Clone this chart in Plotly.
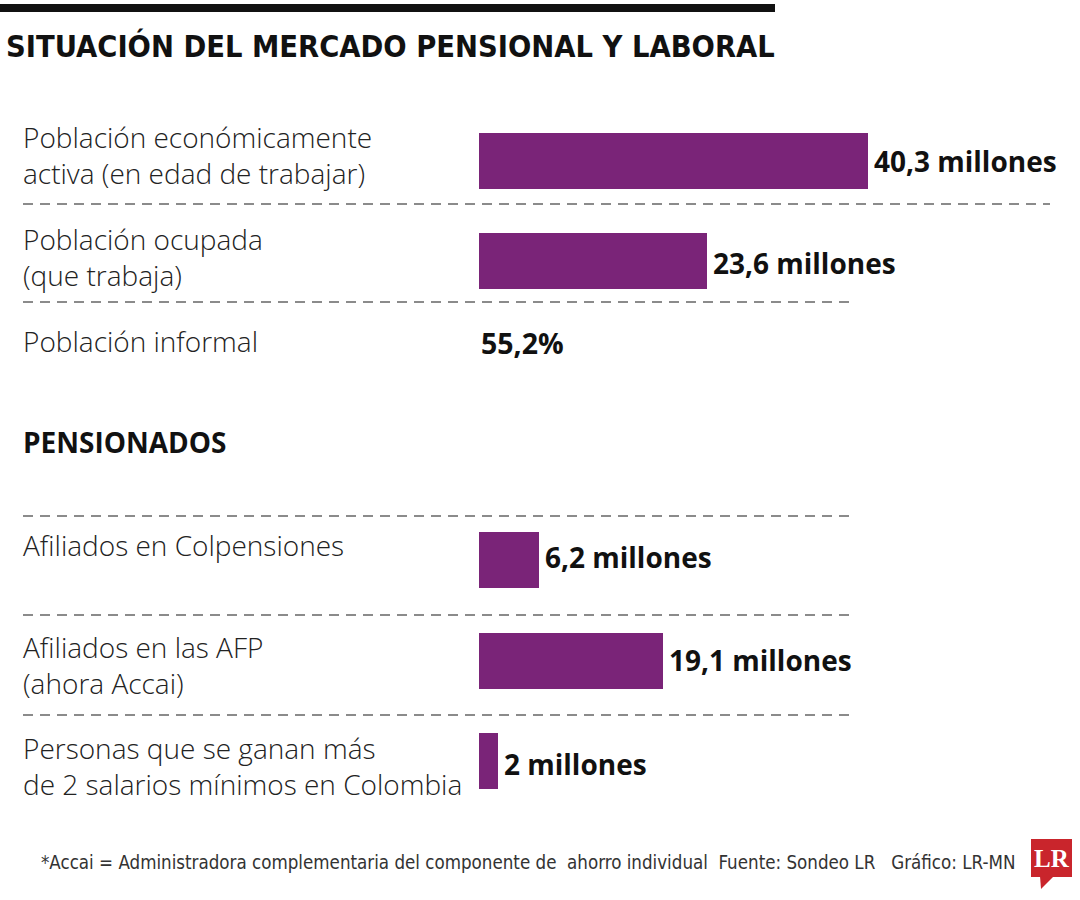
import plotly.graph_objects as go

# ---------------- data ----------------
title = "SITUACIÓN DEL MERCADO PENSIONAL Y LABORAL"
categories = [
    "Población económicamente<br>activa (en edad de trabajar)",
    "Población ocupada<br>(que trabaja)",
    "Afiliados en Colpensiones",
    "Afiliados en las AFP<br>(ahora Accai)",
    "Personas que se ganan más<br>de 2 salarios mínimos en Colombia",
]
values = [40.3, 23.6, 6.2, 19.1, 2]
value_labels = ["40,3 millones", "23,6 millones", "6,2 millones", "19,1 millones", "2 millones"]
informal_label = "Población informal"
informal_value = "55,2%"
section_title = "PENSIONADOS"
footnote = ("*Accai = Administradora complementaria del componente de  ahorro individual  "
            "Fuente: Sondeo LR   Gráfico: LR-MN")

# ---------------- layout constants (pixels) ----------------
W, H = 1080, 900
X0_PX = 479          # pixel where value 0 sits
PX_PER_UNIT = 9.65
bar_y = [160.5, 261, 560, 661, 761]
label_y = [155, 257, 545, 665, 766]
value_y = [161, 263, 557, 660, 764]
dash_lines = [(204, 23, 1050), (302, 23, 853), (516, 23, 853), (615, 23, 853), (715, 23, 853)]

PURPLE = "#7A2478"
LABEL_FONT = "Open Sans"
BOLD_FONT = "Open Sans"
COND_FONT = "DejaVu Sans Condensed, Liberation Sans Narrow, Roboto"

def px(x):
    return x / W

fig = go.Figure()
fig.add_trace(go.Bar(
    x=values, y=bar_y, orientation="h", width=56,
    marker=dict(color=PURPLE, line=dict(width=0)),
    hoverinfo="skip", showlegend=False,
))

ann = []
# title
ann.append(dict(text=f"<b>{title}</b>", x=px(4), y=46, xref="paper", yref="y",
                xanchor="left", yanchor="middle", showarrow=False,
                font=dict(family=COND_FONT, size=30.5, color="#111")))
# labels
for lab, yy in zip(categories, label_y):
    ann.append(dict(text=lab, x=px(21), y=yy, xref="paper", yref="y",
                    xanchor="left", yanchor="middle", align="left", showarrow=False,
                    font=dict(family=LABEL_FONT, size=28, color="#222", weight=300)))
ann.append(dict(text=informal_label, x=px(21), y=341, xref="paper", yref="y",
                xanchor="left", yanchor="middle", showarrow=False,
                font=dict(family=LABEL_FONT, size=28, color="#222", weight=300)))
# values
for v, lab, yy in zip(values, value_labels, value_y):
    ann.append(dict(text=f"<b>{lab}</b>", x=v, y=yy, xref="x", yref="y",
                    xanchor="left", yanchor="middle", xshift=4, showarrow=False,
                    font=dict(family=BOLD_FONT, size=28, color="#111")))
ann.append(dict(text=f"<b>{informal_value}</b>", x=0, y=343, xref="x", yref="y",
                xanchor="left", yanchor="middle", showarrow=False,
                font=dict(family=BOLD_FONT, size=28.5, color="#111")))
ann.append(dict(text=f"<b>{section_title}</b>", x=px(21), y=442, xref="paper", yref="y",
                xanchor="left", yanchor="middle", showarrow=False,
                font=dict(family=BOLD_FONT, size=28, color="#111")))
# footnote
ann.append(dict(text=footnote, x=px(39), y=862, xref="paper", yref="y",
                xanchor="left", yanchor="middle", showarrow=False,
                font=dict(family=COND_FONT, size=18.6, color="#333")))
# logo text
ann.append(dict(text="<b>LR</b>", x=px(1051.5), y=858, xref="paper", yref="y",
                xanchor="center", yanchor="middle", showarrow=False,
                font=dict(family="Liberation Serif", size=25, color="white")))

shapes = []
shapes.append(dict(type="rect", xref="paper", yref="y", x0=0, x1=px(775), y0=4, y1=12,
                   fillcolor="#111", line=dict(width=0), layer="above"))
for yy, xa, xb in dash_lines:
    shapes.append(dict(type="line", xref="paper", yref="y", x0=px(xa), x1=px(xb), y0=yy, y1=yy,
                       line=dict(color="#666", width=1.5, dash="10px,7px")))
# logo
shapes.append(dict(type="rect", xref="paper", yref="y", x0=px(1031), x1=px(1072), y0=839, y1=877,
                   fillcolor="#C9252C", line=dict(width=0)))
shapes.append(dict(type="path", xref="paper", yref="y",
                   path=f"M {px(1040)} 876 L {px(1041)} 889 L {px(1054)} 876 Z",
                   fillcolor="#C9252C", line=dict(width=0)))

fig.update_layout(
    width=W, height=H,
    margin=dict(l=0, r=0, t=0, b=0),
    paper_bgcolor="white", plot_bgcolor="white",
    xaxis=dict(range=[-X0_PX / PX_PER_UNIT, (W - X0_PX) / PX_PER_UNIT], visible=False, fixedrange=True),
    yaxis=dict(range=[H, 0], visible=False, fixedrange=True),
    annotations=ann, shapes=shapes,
    bargap=0,
)
fig.write_html("out.html", config={"displayModeBar": False},
               post_script="document.body.style.margin='0';document.body.style.overflow='hidden';")
